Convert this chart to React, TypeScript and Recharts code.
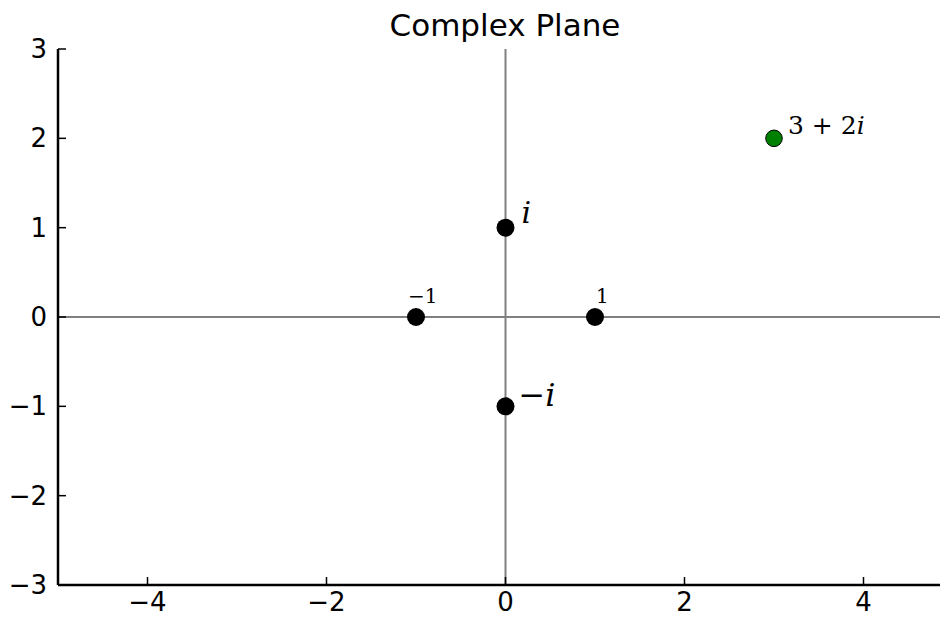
import { ScatterChart, Scatter, XAxis, YAxis, ReferenceLine } from 'recharts';

const realTicks = [-4, -2, 0, 2, 4];
const imagTicks = [-3, -2, -1, 0, 1, 2, 3];

const unitRe = [0, 0, -1, 1];
const unitIm = [1, -1, 0, 0];
const unitLabels = ['i', '−i', '−1', '1'];

const pointRe = [3];
const pointIm = [2];
const pointLabels = ['3 + 2i'];

const unitData = unitRe.map((re, k) => ({ x: re, y: unitIm[k], label: unitLabels[k] }));
const pointData = pointRe.map((re, k) => ({ x: re, y: pointIm[k], label: pointLabels[k] }));

// where each annotation sits relative to its dot
const labelStyle: Record<string, { dx: number; dy: number; size: number }> = {
  'i': { dx: 16, dy: -5, size: 30 },
  '−i': { dx: 13, dy: 0, size: 32 },
  '−1': { dx: -8, dy: -14, size: 20 },
  '1': { dx: 1, dy: -14, size: 20 },
  '3 + 2i': { dx: 14, dy: -4, size: 25 },
};

const fmt = (v: number) => (v < 0 ? '−' + Math.abs(v) : String(v));
const tickFont = { fontFamily: 'DejaVu Sans', fontSize: 26, fill: '#000' };

function BottomTick(props: any) {
  const { x, y, payload } = props;
  return (
    <g>
      <line x1={x} y1={y} x2={x} y2={y - 8} stroke="#000" strokeWidth={1.5} />
      <text x={x} y={y + 26} textAnchor="middle" {...tickFont}>{fmt(payload.value)}</text>
    </g>
  );
}

function TopTick(props: any) {
  const { x, y } = props;
  return <line x1={x} y1={y} x2={x} y2={y + 8} stroke="#000" strokeWidth={1.5} />;
}

function LeftTick(props: any) {
  const { x, y, payload } = props;
  return (
    <g>
      <line x1={x} y1={y} x2={x + 8} y2={y} stroke="#000" strokeWidth={1.5} />
      <text x={x - 11} y={y + 9} textAnchor="end" {...tickFont}>{fmt(payload.value)}</text>
    </g>
  );
}

function Label({ cx, cy, text }: { cx: number; cy: number; text: string }) {
  const s = labelStyle[text];
  const parts = text.split(/(i)/).filter((p) => p !== '');
  return (
    <text x={cx + s.dx} y={cy + s.dy} fontFamily="DejaVu Serif" fontSize={s.size} fill="#000">
      {parts.map((p, k) => (
        <tspan key={k} fontStyle={p === 'i' ? 'italic' : 'normal'}>{p}</tspan>
      ))}
    </text>
  );
}

function BlackDot(props: any) {
  const { cx, cy, payload } = props;
  return (
    <g>
      <circle cx={cx} cy={cy} r={9} fill="#000" />
      <Label cx={cx} cy={cy} text={payload.label} />
    </g>
  );
}

function GreenDot(props: any) {
  const { cx, cy, payload } = props;
  return (
    <g>
      <circle cx={cx} cy={cy} r={8.3} fill="#008000" stroke="#000" strokeWidth={1} />
      <Label cx={cx} cy={cy} text={payload.label} />
    </g>
  );
}

export default function App() {
  return (
    <div style={{ position: 'absolute', left: 0, top: 0, width: 940, height: 617, overflow: 'hidden', background: '#fff' }}>
      <svg width={940} height={50} style={{ position: 'absolute', left: 0, top: 0 }}>
        <text x={505} y={36} textAnchor="middle" fontFamily="DejaVu Sans" fontSize={31} fill="#000">
          Complex Plane
        </text>
      </svg>
      <ScatterChart width={953} height={617} margin={{ top: 49, right: 0, bottom: 0, left: 0 }}>
        <XAxis
          xAxisId="bottom"
          type="number"
          dataKey="x"
          domain={[-5, 5]}
          ticks={realTicks}
          allowDataOverflow
          height={32}
          tickSize={0}
          tickMargin={0}
          tick={<BottomTick />}
          axisLine={{ stroke: '#000', strokeWidth: 2.5 }}
          tickLine={false}
        />
        <XAxis
          xAxisId="top"
          orientation="top"
          type="number"
          dataKey="x"
          domain={[-5, 5]}
          ticks={realTicks}
          allowDataOverflow
          height={0}
          tickSize={0}
          tickMargin={0}
          tick={<TopTick />}
          axisLine={{ stroke: '#000', strokeWidth: 2.5 }}
          tickLine={false}
        />
        <YAxis
          type="number"
          dataKey="y"
          domain={[-3, 3]}
          ticks={imagTicks}
          allowDataOverflow
          width={58}
          tickSize={0}
          tickMargin={0}
          tick={<LeftTick />}
          axisLine={{ stroke: '#000', strokeWidth: 2.5 }}
          tickLine={false}
        />
        <ReferenceLine xAxisId="bottom" x={0} stroke="#808080" strokeWidth={2} />
        <ReferenceLine xAxisId="bottom" y={0} stroke="#808080" strokeWidth={2} />
        <Scatter xAxisId="bottom" data={unitData} shape={<BlackDot />} isAnimationActive={false} />
        <Scatter xAxisId="bottom" data={pointData} shape={<GreenDot />} isAnimationActive={false} />
      </ScatterChart>
    </div>
  );
}
